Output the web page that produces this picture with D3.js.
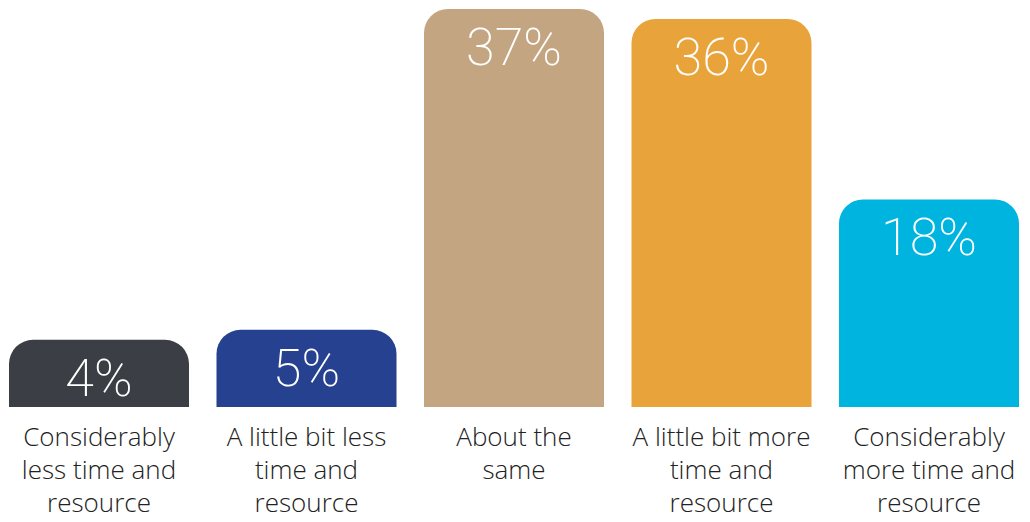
<!DOCTYPE html>
<html>
<head>
<meta charset="utf-8">
<script src="https://cdn.jsdelivr.net/npm/d3@7"></script>
<style>
  html, body { margin: 0; padding: 0; background: #fff; }
  svg { display: block; }
</style>
</head>
<body>
<div id="chart-area"></div>
<script>
var categories = [
  ['Considerably', 'less time and', 'resource'],
  ['A little bit less', 'time and', 'resource'],
  ['About the', 'same'],
  ['A little bit more', 'time and', 'resource'],
  ['Considerably', 'more time and', 'resource']
]
var values = [4, 5, 37, 36, 18]
var colors = ['#3b3e44', '#25418f', '#c4a581', '#e9a33b', '#00b4e0']

var width = 1030
var height = 522
var baseline = 407
var radius = 24

var svg = d3.select('#chart-area').append('svg')
    .attr('width', width)
    .attr('height', height)

var x = d3.scaleBand().domain(d3.range(values.length)).range([9, 1019]).paddingInner(.1325).paddingOuter(0)
var y = d3.scaleLinear().domain([-2.7, 37]).range([baseline, 9])

function barPath(i) {
  var x0 = x(i), x1 = x(i) + x.bandwidth(), top = y(values[i])
  var r = Math.min(radius, (baseline - top))
  return `M${x0},${baseline} V${top + r} A${r},${r} 0 0 1 ${x0 + r},${top} H${x1 - r} A${r},${r} 0 0 1 ${x1},${top + r} V${baseline} Z`
}

svg.selectAll('path.bar').data(values).enter()
  .append('path')
    .attr('class', 'bar')
    .attr('d', (d, i) => barPath(i))
    .attr('fill', (d, i) => colors[i])

svg.selectAll('text.value').data(values).enter()
  .append('text')
    .attr('class', 'value')
    .attr('x', (d, i) => x(i) + x.bandwidth() / 2)
    .attr('y', d => y(d) + 56)
    .attr('text-anchor', 'middle')
    .attr('fill', '#fff')
    .attr('font-family', 'Roboto, sans-serif')
    .attr('font-weight', 200)
    .attr('font-size', '52px')
    .text(d => d + '%')

var labels = svg.selectAll('text.cat').data(categories).enter()
  .append('text')
    .attr('class', 'cat')
    .attr('text-anchor', 'middle')
    .attr('fill', '#222')
    .attr('font-family', '"Open Sans", sans-serif')
    .attr('font-weight', 300)
    .attr('font-size', '26px')

labels.selectAll('tspan').data((d, i) => d.map(line => ({ line: line, i: i }))).enter()
  .append('tspan')
    .attr('x', d => x(d.i) + x.bandwidth() / 2)
    .attr('y', (d, j) => 446 + j * 33)
    .text(d => d.line)
</script>
</body>
</html>
